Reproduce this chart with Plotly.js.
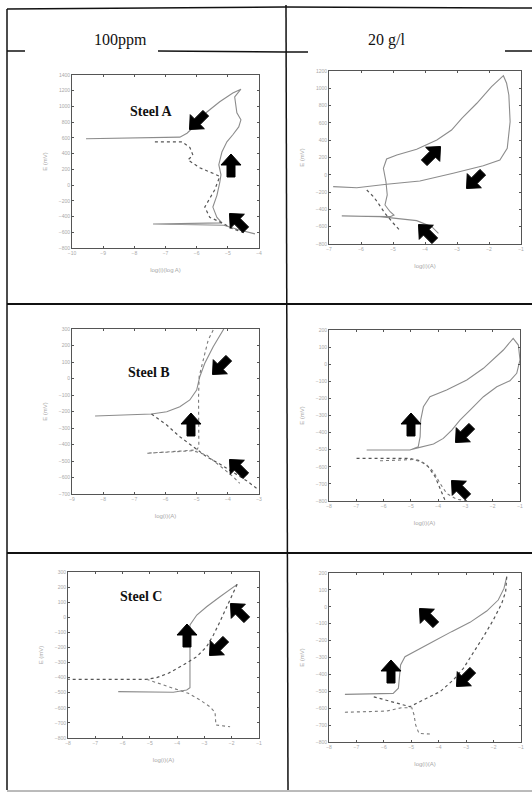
<!DOCTYPE html>
<html><head><meta charset="utf-8">
<script src="https://cdn.plot.ly/plotly-3.0.1.min.js"></script>
<style>html,body{margin:0;padding:0;background:#fff}#chart{width:532px;height:793px}</style>
</head><body><div id="chart"></div>
<script>
// ---------- text ----------
const columnHeaders = ["100ppm", "20 g/l"];
const steelLabels = ["Steel A", "Steel B", "Steel C"];
const xTitles = ["log(i)(log A)", "log(i)(A)", "log(i)(A)", "log(i)(A)", "log(i)(A)", "log(i)(A)"];
const yTitles = ["E (mV)", "E (mV)", "E (mV)", "E (mV)", "E (mV)", "E (mV)"];

// ---------- Steel A, 100 ppm ----------
const a1_scan1_x = [-9.55,-6.76,-6.54,-6.31,-5.99,-5.67,-5.26,-4.84,-4.58,-4.78,-4.71,-4.58,-4.65,-4.84,-5.03,-5.19,-5.29,-5.22,-5.26,-5.35,-5.48,-5.35,-5.19,-7.40,-5.13,-4.62,-4.13];
const a1_scan1_y = [590,600,610,660,780,930,1060,1170,1220,1120,920,830,740,640,550,420,260,130,30,-130,-280,-410,-480,-495,-510,-570,-620];
const a1_scan2_x = [-7.34,-6.47,-6.22,-6.12,-6.28,-5.90,-5.48,-5.26,-5.42,-5.74,-5.58,-5.19,-4.87,-4.46];
const a1_scan2_y = [550,550,480,380,320,220,150,110,-60,-280,-410,-480,-550,-610];

// ---------- Steel A, 20 g/l ----------
const a2_scan1_x = [-6.87,-6.13,-5.20,-4.16,-3.12,-2.18,-1.66,-1.43,-1.34,-1.38,-1.45,-1.55,-1.92,-2.38,-2.85,-3.17,-3.63,-4.26,-4.88,-5.20,-5.30,-5.22,-5.18,-5.25,-5.09,-4.97,-5.09,-6.60,-5.41,-4.26,-3.79,-3.58];
const a2_scan1_y = [-137,-149,-110,-72,17,105,171,306,614,923,1058,1146,1019,827,653,518,402,295,229,183,75,-80,-233,-349,-427,-465,-484,-476,-484,-530,-600,-676];
const a2_scan2_x = [-5.82,-5.61,-5.46,-5.25,-4.99,-4.78];
const a2_scan2_y = [-176,-253,-329,-445,-560,-646];

// ---------- Steel B, 100 ppm ----------
const b1_scan1_x = [-8.26,-6.45,-5.96,-5.54,-5.22,-5.00,-4.90,-4.74,-4.47,-4.20,-4.13];
const b1_scan1_y = [-227,-215,-201,-171,-130,-70,11,92,193,284,300];
const b1_scan2_x = [-6.45,-5.96,-5.54,-5.11,-4.68,-4.26,-3.83,-3.40,-3.08];
const b1_scan2_y = [-215,-282,-353,-413,-474,-518,-571,-619,-665];
const b1_scan3_x = [-4.47,-4.63,-4.79,-4.92,-4.94,-4.93,-4.93,-5.00,-6.61,-5.11,-4.68,-3.83,-3.62];
const b1_scan3_y = [294,233,112,11,-110,-271,-413,-433,-453,-438,-464,-595,-635];

// ---------- Steel B, 20 g/l ----------
const b2_scan1_x = [-6.62,-5.03,-4.73,-4.66,-4.64,-4.54,-4.30,-3.69,-2.95,-2.34,-1.61,-1.25,-1.06,-1.00,-1.12,-1.37,-1.85,-2.34,-2.83,-3.20,-3.50,-3.81,-4.17,-4.66,-4.97];
const b2_scan1_y = [-502,-502,-483,-424,-327,-249,-190,-151,-92,-24,83,151,112,25,-53,-97,-132,-190,-268,-327,-385,-434,-467,-486,-498];
const b2_scan2_x = [-6.99,-5.03,-4.66,-4.36,-4.11,-3.96,-3.83,-3.75];
const b2_scan2_y = [-551,-551,-565,-600,-658,-717,-765,-795];
const b2_scan3_x = [-6.13,-4.91,-4.48,-4.17,-3.93,-3.69,-3.32,-2.83];
const b2_scan3_y = [-565,-557,-580,-629,-697,-755,-790,-800];

// ---------- Steel C, 100 ppm ----------
const c1_scan1_x = [-6.16,-4.14,-3.65,-3.53,-3.53,-3.53,-3.28,-2.92,-2.43,-1.80];
const c1_scan1_y = [-493,-497,-482,-467,-272,-51,15,70,136,218];
const c1_scan2_x = [-1.80,-1.94,-2.18,-2.43,-2.67,-2.92,-3.28,-3.77,-4.32,-4.75,-5.12,-7.99];
const c1_scan2_y = [218,159,70,-29,-117,-195,-261,-316,-371,-400,-411,-411];
const c1_scan3_x = [-5.12,-4.51,-4.02,-3.59,-3.16,-2.80,-2.61,-2.58,-2.06];
const c1_scan3_y = [-411,-449,-482,-504,-548,-593,-630,-714,-725];

// ---------- Steel C, 20 g/l ----------
const c2_scan1_x = [-7.42,-5.66,-5.47,-5.44,-5.39,-5.23,-4.80,-4.20,-3.53,-2.86,-2.25,-1.83,-1.62,-1.52];
const c2_scan1_y = [-518,-512,-482,-423,-344,-295,-256,-206,-147,-92,-25,40,109,178];
const c2_scan2_x = [-1.52,-1.56,-1.70,-2.01,-2.37,-2.74,-3.10,-3.47,-3.95,-4.44,-4.92,-5.05,-6.38];
const c2_scan2_y = [178,90,21,-78,-177,-275,-364,-433,-502,-541,-577,-591,-532];
const c2_scan3_x = [-7.42,-5.90,-5.35,-4.98,-4.90,-4.84,-4.72,-4.22];
const c2_scan3_y = [-624,-617,-597,-597,-640,-699,-749,-754];

// ---------- axis scales ----------
const xRanges = [[-10,-4],[-7,-1],[-9,-3],[-8,-1],[-8,-1],[-8,-1]];
const yRanges = [[-800,1400],[-800,1200],[-700,300],[-800,200],[-800,300],[-800,200]];
const yTickSteps = [200,200,100,100,100,100];

// ---------- layout helpers ----------
const W = 532, H = 793;
const px = v => v / W, py = v => 1 - v / H;
const boxes = [ // [left, right, top, bottom] in pixels
  [72,259,75,248],[329,521,71,244],
  [72,259,329,494],[329,520,330,501],
  [68,259,572,738],[329,521,573,742]
];

const series = [
  [[a1_scan1_x,a1_scan1_y],[a1_scan2_x,a1_scan2_y]],
  [[a2_scan1_x,a2_scan1_y],[a2_scan2_x,a2_scan2_y]],
  [[b1_scan1_x,b1_scan1_y],[b1_scan2_x,b1_scan2_y],[b1_scan3_x,b1_scan3_y]],
  [[b2_scan1_x,b2_scan1_y],[b2_scan2_x,b2_scan2_y],[b2_scan3_x,b2_scan3_y]],
  [[c1_scan1_x,c1_scan1_y],[c1_scan2_x,c1_scan2_y],[c1_scan3_x,c1_scan3_y]],
  [[c2_scan1_x,c2_scan1_y],[c2_scan2_x,c2_scan2_y],[c2_scan3_x,c2_scan3_y]]
];
const lineStyles = [
  {color:'#8c8c8c', width:1.1, dash:'solid'},
  {color:'#555555', width:1.2, dash:'dot'},
  {color:'#7a7a7a', width:1.1, dash:'dot'}
];

const traces = [];
const layout = {
  width: W, height: H, margin:{l:0,r:0,t:0,b:0},
  paper_bgcolor:'#fff', plot_bgcolor:'#fff', showlegend:false,
  font:{family:'Liberation Serif, serif'},
  shapes:[], annotations:[]
};

series.forEach((panel, i) => {
  const n = i + 1, sfx = n === 1 ? '' : String(n);
  panel.forEach((s, j) => {
    traces.push({x:s[0], y:s[1], xaxis:'x'+sfx, yaxis:'y'+sfx, type:'scatter', mode:'lines',
      line:lineStyles[j], hoverinfo:'skip'});
  });
  const b = boxes[i];
  const common = {showgrid:false, zeroline:false, showline:true, mirror:'ticks', linecolor:'#555', linewidth:1,
    ticks:'inside', ticklen:2, tickcolor:'#555', tickfont:{size:5, color:'#a8a8a8', family:'Liberation Sans'}};
  layout['xaxis'+sfx] = Object.assign({}, common, {domain:[px(b[0]),px(b[1])], range:xRanges[i], dtick:1,
    anchor:'y'+sfx, title:{text:xTitles[i], font:{size:6, color:'#a8a8a8', family:'Liberation Sans'}, standoff:12}});
  layout['yaxis'+sfx] = Object.assign({}, common, {domain:[py(b[3]),py(b[2])], range:yRanges[i], dtick:yTickSteps[i],
    anchor:'x'+sfx, title:{text:yTitles[i], font:{size:6, color:'#a8a8a8', family:'Liberation Sans'}, standoff:10}});
});

// table rules
const rule = (x0,y0,x1,y1,w,c) => layout.shapes.push({type:'line', xref:'paper', yref:'paper',
  x0:px(x0), y0:py(y0), x1:px(x1), y1:py(y1), line:{color:c||'#111', width:w||1.5}});
rule(7,9,285,7,1.5); rule(285,7,532,8,1.5);
rule(7,9,7,790,1.5); rule(286,5,288,790,1.5);
rule(7,51,25,51,1.5); rule(158,51,284,52,1.5); rule(284,52,308,52,1.5); rule(505,51,532,51,1.5);
rule(7,304,532,304,2.2); rule(7,553,532,553,2.2); rule(7,791,532,791,1,'#777');

// column headers
[[92,29],[407,29]].forEach((p,k)=>layout.annotations.push({xref:'paper',yref:'paper',x:px(p[0]),y:py(p[1]),
  text:columnHeaders[k], showarrow:false, font:{size:16,color:'#111',family:'Liberation Serif'}}));
// steel labels
[[128,102],[126,372],[118,606]].forEach((p,k)=>layout.annotations.push({xref:'paper',yref:'paper',x:px(p[0]),y:py(p[1]),
  text:'<b>'+steelLabels[k]+'</b>', showarrow:false, font:{size:14,color:'#111',family:'Liberation Serif'}}));

// scan-direction block arrows (drawn as filled shapes); angle: 0 = up, CCW positive
const UP = 0, UL = 45, DL = 135, UR = -45;
const arrows = [
  [DL,198,121],[UP,231,166],[UL,238,222],
  [UR,432,155],[DL,475,180],[UL,427,233],
  [DL,221,366],[UP,191,425],[UL,238,468],
  [UP,411,425],[DL,464,434],[UL,460,489],
  [UP,187,636],[DL,218,647],[UL,239,612],
  [UL,428,617],[UP,391,672],[DL,465,678]
];
const arrowShape = [[0,12],[10,1],[4,1],[4,-11],[-4,-11],[-4,1],[-10,1]];
arrows.forEach(a => {
  const t = a[0]*Math.PI/180, c = Math.cos(t), s = Math.sin(t);
  const pts = arrowShape.map(p => {
    const xr = p[0]*c - p[1]*s, yr = p[0]*s + p[1]*c;
    return px(a[1]+xr).toFixed(5)+','+py(a[2]-yr).toFixed(5);
  });
  layout.shapes.push({type:'path', xref:'paper', yref:'paper', path:'M'+pts.join('L')+'Z',
    fillcolor:'#000', line:{color:'#000', width:1}});
});

Plotly.newPlot('chart', traces, layout, {staticPlot:true, displayModeBar:false});
</script></body></html>
